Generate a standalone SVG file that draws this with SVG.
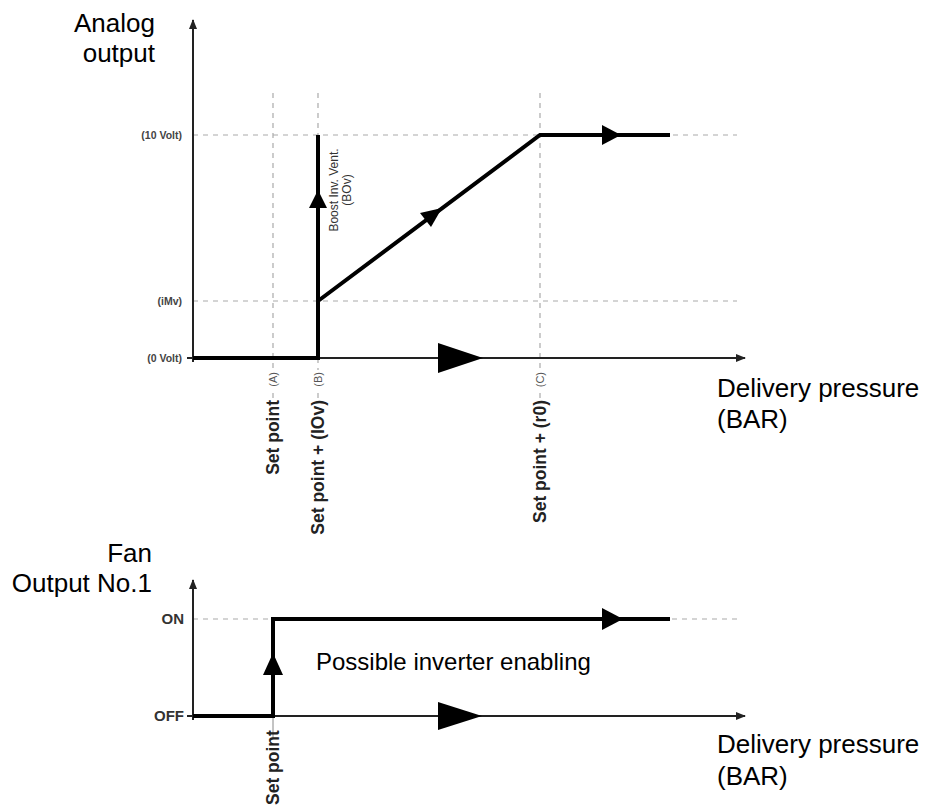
<svg xmlns="http://www.w3.org/2000/svg" width="927" height="807" viewBox="0 0 927 807">
<style>
.big{font-family:"Liberation Sans",Arial,sans-serif;font-size:26px;fill:#000}
.mid{font-family:"Liberation Sans",Arial,sans-serif;font-size:24px;fill:#000}
.lbl{font-family:"Liberation Sans",Arial,sans-serif;font-size:10.5px;font-weight:bold;fill:#444}
.onoff{font-family:"Liberation Sans",Arial,sans-serif;font-size:15px;font-weight:bold;fill:#333}
.sp{font-family:"Liberation Sans",Arial,sans-serif;font-size:17.5px;font-weight:bold;fill:#222}
.small{font-family:"Liberation Sans",Arial,sans-serif;font-size:11px;fill:#555}
.boost{font-family:"Liberation Sans",Arial,sans-serif;font-size:12px;fill:#333}
.dash{stroke:#aaa;stroke-width:1.2;stroke-dasharray:5,5;fill:none}
.axis{stroke:#222;stroke-width:2;fill:none}
.thick{stroke:#000;stroke-width:4;fill:none;stroke-linejoin:miter}
.head{fill:#000}
</style>
<defs>
<marker id="ax" markerWidth="10" markerHeight="8" refX="9" refY="4" orient="auto" markerUnits="userSpaceOnUse">
<path d="M0,0 L10,4 L0,8 Z" fill="#222"/>
</marker>
</defs>

<g id="grid-top">
<line class="dash" x1="193" y1="135" x2="737" y2="135"/>
<line class="dash" x1="193" y1="301" x2="737" y2="301"/>
<line class="dash" x1="273" y1="93" x2="273" y2="370"/>
<line class="dash" x1="273" y1="393" x2="273" y2="399"/>
<line class="dash" x1="318" y1="93" x2="318" y2="135"/>
<line class="dash" x1="318" y1="358" x2="318" y2="370"/>
<line class="dash" x1="318" y1="393" x2="318" y2="399"/>
<line class="dash" x1="540" y1="93" x2="540" y2="370"/>
<line class="dash" x1="540" y1="393" x2="540" y2="399"/>
</g>

<g id="grid-bottom">
<line class="dash" x1="193" y1="619" x2="273" y2="619"/>
<line class="dash" x1="672" y1="619" x2="737" y2="619"/>
<line stroke="#888" stroke-width="1" x1="273" y1="716" x2="273" y2="738"/>
</g>

<g id="axes">
<line class="axis" x1="193" y1="362" x2="193" y2="20" marker-end="url(#ax)"/>
<line class="axis" x1="187" y1="358" x2="745" y2="358" marker-end="url(#ax)"/>
<line class="axis" x1="193" y1="720" x2="193" y2="580" marker-end="url(#ax)"/>
<line class="axis" x1="187" y1="716" x2="745" y2="716" marker-end="url(#ax)"/>
</g>

<g id="connectors">
<polyline class="thick" points="193,358 318,358 318,135"/>
<polyline class="thick" points="318,301 540,135 670,135"/>
<polyline class="thick" points="193,716 273,716 273,619 670,619"/>
<polygon class="head" points="318,190 309,208 327,208"/>
<polygon class="head" points="442,208 420,213 431,227"/>
<polygon class="head" points="621,135 602,125 602,145"/>
<polygon class="head" points="483,358 438,343 438,373"/>
<polygon class="head" points="273,653 263,675 283,675"/>
<polygon class="head" points="623,619 602,608 602,630"/>
<polygon class="head" points="482,716 438,702 438,730"/>
</g>

<g id="title-analog">
<text class="big" x="155" y="32" text-anchor="end">Analog</text>
<text class="big" x="155" y="62" text-anchor="end">output</text>
</g>

<g id="title-fan">
<text class="big" x="152" y="562" text-anchor="end">Fan</text>
<text class="big" x="152" y="592" text-anchor="end">Output No.1</text>
</g>

<g id="y-labels-top">
<text class="lbl" x="182" y="139" text-anchor="end">(10 Volt)</text>
<text class="lbl" x="182" y="305" text-anchor="end">(iMv)</text>
<text class="lbl" x="182" y="362" text-anchor="end">(0 Volt)</text>
</g>

<g id="y-labels-bottom">
<text class="onoff" x="184" y="624" text-anchor="end">ON</text>
<text class="onoff" x="184" y="721" text-anchor="end">OFF</text>
</g>

<g id="x-labels-top">
<text class="sp" transform="translate(279,400) rotate(-90)" text-anchor="end">Set point</text>
<text class="small" transform="translate(277,372) rotate(-90)" text-anchor="end">(A)</text>
<text class="sp" transform="translate(324,400) rotate(-90)" text-anchor="end">Set point + (IOv)</text>
<text class="small" transform="translate(322,372) rotate(-90)" text-anchor="end">(B)</text>
<text class="sp" transform="translate(546,400) rotate(-90)" text-anchor="end">Set point + (r0)</text>
<text class="small" transform="translate(544,372) rotate(-90)" text-anchor="end">(C)</text>
</g>

<g id="boost-label">
<text class="boost" transform="translate(338,190) rotate(-90)" text-anchor="middle">Boost Inv. Vent.</text>
<text class="boost" transform="translate(351,190) rotate(-90)" text-anchor="middle">(BOv)</text>
</g>

<g id="x-label-bottom">
<text class="sp" transform="translate(279,805) rotate(-90)" text-anchor="start">Set point</text>
</g>

<g id="pressure-top">
<text class="big" x="717" y="397">Delivery pressure</text>
<text class="big" x="717" y="428">(BAR)</text>
</g>

<g id="pressure-bottom">
<text class="big" x="717" y="753">Delivery pressure</text>
<text class="big" x="717" y="785">(BAR)</text>
</g>

<g id="inverter-note">
<text class="mid" x="316" y="670">Possible inverter enabling</text>
</g>
</svg>
